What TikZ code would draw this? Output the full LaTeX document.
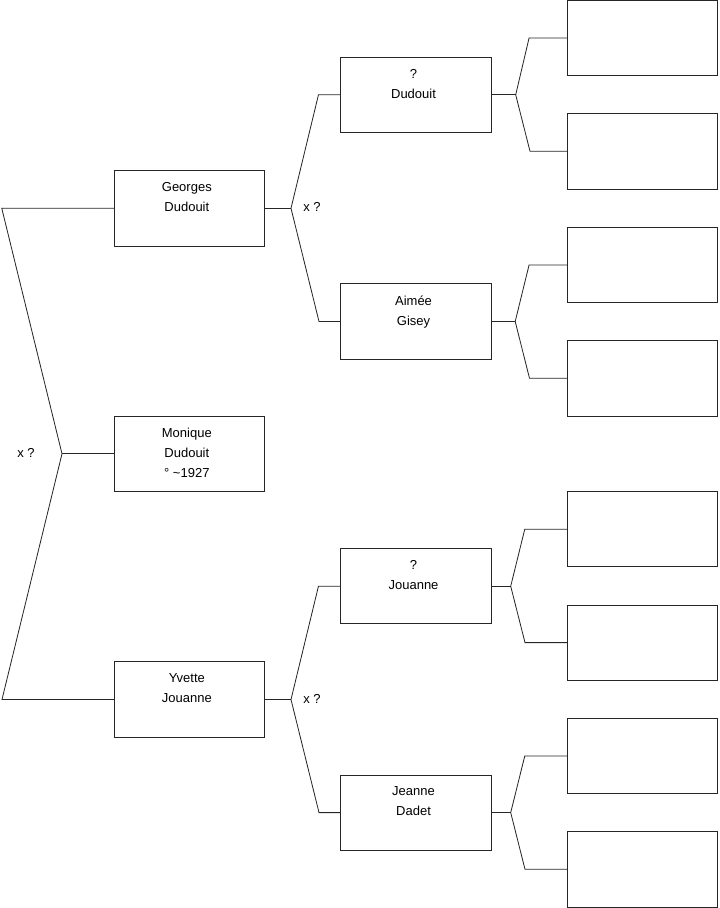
\documentclass[tikz,border=0pt]{standalone}
\usepackage{fontspec}
\setmainfont{Liberation Sans}
\usepackage{tikz}

\tikzset{
    person/.style={draw=black!85, line width=0.7pt, minimum width=45.2mm, minimum height=22.6mm, inner sep=0pt},
    names/.style={anchor=north, align=center, inner sep=0pt, xshift=-0.8mm, yshift=-3.6mm, font=\fontsize{11.1}{17.07}\selectfont},
    marr/.style={inner sep=0pt, font=\fontsize{11.1}{13}\selectfont},
    link/.style={draw=black!85, line width=0.7pt}
}

\begin{document}
\begin{tikzpicture}[x=0.3mm, y=-0.3mm]
        \useasboundingbox (0,0) rectangle (719,908);

        % First column (child and parents)
        \node[person] (georges) at (189.5, 208.3) {};
        \node[person] (monique) at (189.5, 453.8) {};
        \node[person] (yvette)  at (189.5, 699.5) {};
        \node[names] (georgesname) at (georges.north) {Georges\\Dudouit};
        \node[names] (moniquename) at (monique.north) {Monique\\Dudouit\\° \textasciitilde1927};
        \node[names] (yvettename)  at (yvette.north)  {Yvette\\Jouanne};

        % Second column (grandparents)
        \node[person] (dudouit) at (416.2, 94.8) {};
        \node[person] (gisey)   at (416.2, 321.5) {};
        \node[person] (jouanne) at (416.2, 586.2) {};
        \node[person] (dadet)   at (416.2, 812.6) {};
        \node[names] (dudouitname) at (dudouit.north) {?\\Dudouit};
        \node[names] (giseyname)   at (gisey.north)   {Aimée\\Gisey};
        \node[names] (jouannename) at (jouanne.north) {?\\Jouanne};
        \node[names] (dadetname)   at (dadet.north)   {Jeanne\\Dadet};

        % Third column (empty boxes)
        \node[person] (r1) at (642.5, 38.0) {};
        \node[person] (r2) at (642.5, 151.3) {};
        \node[person] (r3) at (642.5, 265.0) {};
        \node[person] (r4) at (642.5, 378.3) {};
        \node[person] (r5) at (642.5, 529.2) {};
        \node[person] (r6) at (642.5, 642.6) {};
        \node[person] (r7) at (642.5, 756.0) {};
        \node[person] (r8) at (642.5, 869.3) {};

        % Forks
        \coordinate (f0) at (62, 453.8);
        \coordinate (fg) at (291, 208.3);
        \coordinate (fy) at (291, 699.5);
        \coordinate (fd) at (515.7, 94.8);
        \coordinate (fa) at (515.2, 321.5);
        \coordinate (fj) at (510.7, 586.2);
        \coordinate (fe) at (510.7, 812.6);

        % Links
        \draw[link] (georges.west) -- ++(-112,0) -- (f0) -- ++(-60,245.7) -- (yvette.west);
        \draw[link] (f0) -- (monique.west);

        \draw[link] (dudouit.west) -- ++(-22,0) -- (fg) -- ++(28,113.2) -- (gisey.west);
        \draw[link] (fg) -- (georges.east);
        \draw[link] (jouanne.west) -- ++(-22,0) -- (fy) -- ++(28,113.1) -- (dadet.west);
        \draw[link] (fy) -- (yvette.east);

        \draw[link] (r1.west) -- ++(-37.7,0) -- (fd) -- ++(14.3,56.5) -- (r2.west);
        \draw[link] (fd) -- (dudouit.east);
        \draw[link] (r3.west) -- ++(-37.7,0) -- (fa) -- ++(14.3,56.8) -- (r4.west);
        \draw[link] (fa) -- (gisey.east);
        \draw[link] (r5.west) -- ++(-42,0) -- (fj) -- ++(14.3,56.4) -- (r6.west);
        \draw[link] (fj) -- (jouanne.east);
        \draw[link] (r7.west) -- ++(-42,0) -- (fe) -- ++(14.3,56.7) -- (r8.west);
        \draw[link] (fe) -- (dadet.east);

        % Marriage labels
        \node[marr] (m0) at (26, 452.7) {x ?};
        \node[marr] (m1) at (312, 207.3) {x ?};
        \node[marr] (m2) at (312, 698.5) {x ?};

    \end{tikzpicture}
\end{document}
